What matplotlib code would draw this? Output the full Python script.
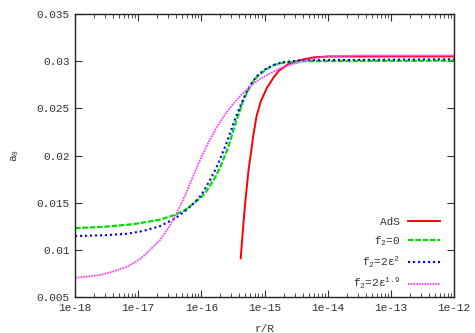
import matplotlib
matplotlib.use('Agg')
import matplotlib.pyplot as plt
from matplotlib.ticker import LogLocator, FixedFormatter, NullFormatter

plt.rcParams['font.family'] = ['Liberation Mono', 'DejaVu Sans Mono']
plt.rcParams['mathtext.fontset'] = 'custom'
plt.rcParams['mathtext.rm'] = 'Liberation Mono'
plt.rcParams['mathtext.it'] = 'Liberation Mono'
plt.rcParams['mathtext.default'] = 'rm'

# AdS curve
ads_r = [4.2e-16, 4.6e-16, 5.0e-16, 5.6e-16, 6.2e-16, 6.6e-16, 7.5e-16, 8.8e-16,
         1.1e-15, 1.4e-15, 1.7e-15, 2.4e-15, 3.6e-15, 6e-15, 1e-14, 1e-13, 1e-12]
ads_a = [0.0091, 0.0125, 0.0153, 0.0185, 0.0206, 0.0220, 0.0242, 0.0258,
         0.0272, 0.0283, 0.0290, 0.0297, 0.0301, 0.0304, 0.0305, 0.0305, 0.0305]

# f2 = 0
f0_r = [1e-18, 3e-18, 6.6e-18, 1e-17, 2.2e-17, 3.8e-17, 5.5e-17, 7.5e-17, 1e-16,
        1.2e-16, 1.6e-16, 2e-16, 2.6e-16, 3e-16, 3.4e-16, 4e-16, 4.6e-16, 5.2e-16,
        6e-16, 7.5e-16, 1e-15, 1.3e-15, 1.8e-15, 2.5e-15, 4e-15, 1e-12]
f0_a = [0.0123, 0.01245, 0.01265, 0.0128, 0.0132, 0.0137, 0.0142, 0.0149, 0.0156,
        0.0162, 0.0175, 0.0188, 0.0207, 0.0220, 0.0232, 0.0246, 0.0258, 0.0266,
        0.0274, 0.0283, 0.0290, 0.0295, 0.0298, 0.0299, 0.0300, 0.03005]

# f2 = 2 eps^2
f2_r = [1e-18, 3e-18, 6.6e-18, 1.2e-17, 2.2e-17, 3.8e-17, 5.5e-17, 7.5e-17, 1e-16,
        1.37e-16, 1.7e-16, 2e-16, 2.4e-16, 2.9e-16, 3.3e-16, 4e-16, 5e-16, 6e-16,
        7.5e-16, 1e-15, 1.4e-15, 2e-15, 4e-15, 1e-12]
f2_a = [0.01146, 0.01155, 0.0117, 0.0120, 0.0125, 0.0133, 0.0141, 0.0149, 0.0158,
        0.0174, 0.0186, 0.0197, 0.0210, 0.0225, 0.0236, 0.0250, 0.0265, 0.0275,
        0.0284, 0.0291, 0.0296, 0.0299, 0.0301, 0.0302]

# f2 = 2 eps^1.9
f19_r = [1e-18, 2.5e-18, 4e-18, 6.6e-18, 9e-18, 1.2e-17, 1.6e-17, 2.2e-17, 2.8e-17,
         3.6e-17, 4.6e-17, 5.9e-17, 7.4e-17, 9.5e-17, 1.3e-16, 1.75e-16, 2.4e-16,
         3.2e-16, 4.4e-16, 5.9e-16, 8e-16, 1.08e-15, 1.5e-15, 2e-15, 3.6e-15, 6e-15,
         1e-14, 3e-14, 1e-12]
f19_a = [0.00703, 0.00733, 0.0077, 0.0082, 0.0087, 0.0093, 0.0101, 0.0110, 0.0120,
         0.0132, 0.0146, 0.0162, 0.0178, 0.0195, 0.0214, 0.0230, 0.0244,
         0.0255, 0.0265, 0.0273, 0.0280, 0.0285, 0.0290, 0.0294, 0.0299, 0.0303,
         0.0305, 0.0306, 0.0306]

xticks = [1e-18, 1e-17, 1e-16, 1e-15, 1e-14, 1e-13, 1e-12]
xlabels = ['1e-18', '1e-17', '1e-16', '1e-15', '1e-14', '1e-13', '1e-12']
yticks = [0.005, 0.01, 0.015, 0.02, 0.025, 0.03, 0.035]
ylabels = ['0.005', '0.01', '0.015', '0.02', '0.025', '0.03', '0.035']

fig = plt.figure(figsize=(4.75, 3.33), dpi=100)
ax = fig.add_axes([75/475, 36/333, 379/475, 283/333])

ax.plot(ads_r, ads_a, color='#ff0000', lw=1.4, label='AdS')
ax.plot(f0_r, f0_a, color='#00e000', lw=1.6, ls=(0, (2.5, 0.8)), label='f$_2$=0')
ax.plot(f2_r, f2_a, color='#0000ff', lw=1.5, ls=(0, (1, 1.4)), label='f$_2$=2ε$^2$')
ax.plot(f19_r, f19_a, color='#ff44ff', lw=1.3, ls=(0, (1, 0.5)), label='f$_2$=2ε$^{1.9}$')

ax.set_xscale('log')
ax.set_xlim(1e-18, 1e-12)
ax.set_ylim(0.005, 0.035)
ax.set_xticks(xticks)
ax.xaxis.set_major_formatter(FixedFormatter(xlabels))
ax.xaxis.set_minor_locator(LogLocator(base=10, subs=range(2, 10), numticks=20))
ax.xaxis.set_minor_formatter(NullFormatter())
ax.set_yticks(yticks)
ax.set_yticklabels(ylabels)

ax.tick_params(which='major', direction='in', length=5, width=0.8, top=True, right=True,
               labelsize=8, colors='#333333', labelcolor='#333333', pad=4)
ax.tick_params(which='minor', direction='in', length=3, width=0.5, top=True, right=True)
for s in ax.spines.values():
    s.set_linewidth(1.0)
    s.set_color('#222222')

ax.set_xlabel('r/R', fontsize=8, color='#333333', labelpad=8)
ax.set_ylabel('a$_0$', fontsize=8, color='#333333', labelpad=11)

ax.legend(loc='lower right', bbox_to_anchor=(0.963, 0.02), frameon=False, markerfirst=False,
          fontsize=8, handlelength=2.9, handletextpad=0.7, labelspacing=0.6,
          borderpad=0, borderaxespad=0, labelcolor='#333333')

fig.savefig('out.png', dpi=100)
